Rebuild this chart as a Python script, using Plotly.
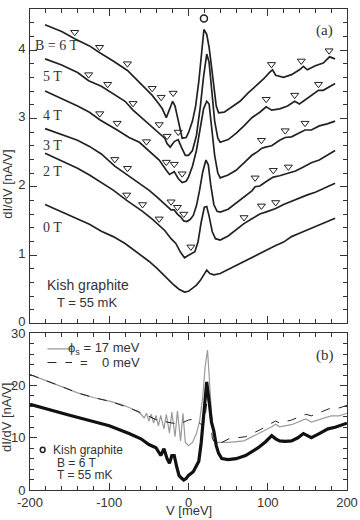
import plotly.graph_objects as go
from plotly.subplots import make_subplots

# ---------- panel (a): dI/dV at several fields (offset curves) ----------
v_6t = [-181, -160, -143, -125, -112, -95, -77, -62, -46, -38, -33, -28, -24, -20, -17, -13, -8, -3, 0,
        5, 9, 13, 16, 19.5, 23, 26, 29, 32, 35, 38, 45, 55, 65, 75, 85, 95, 102, 106, 110, 120, 130,
        140, 145, 150, 160, 170, 178, 185]
g_6t = [4.37, 4.27, 4.16, 4.06, 3.96, 3.84, 3.70, 3.53, 3.34, 3.22, 3.14, 3.01, 3.12, 3.25, 3.18, 2.96,
        2.71, 2.72, 2.79, 2.96, 3.18, 3.54, 3.90, 4.30, 4.23, 4.04, 3.76, 3.42, 3.18, 3.08, 3.09, 3.17,
        3.25, 3.37, 3.47, 3.58, 3.67, 3.71, 3.63, 3.60, 3.64, 3.71, 3.76, 3.71, 3.77, 3.81, 3.90, 3.87]

v_5t = [-181, -160, -140, -126, -110, -102, -90, -80, -70, -60, -50, -37, -30, -27, -23, -18, -13, -9, -4,
        0, 5, 10, 15, 19, 23, 26, 29, 33, 37, 40, 50, 60, 70, 80, 90, 98, 105, 115, 125, 134, 140, 150,
        160, 164, 170, 185]
g_5t = [3.87, 3.78, 3.67, 3.55, 3.47, 3.41, 3.32, 3.25, 3.12, 3.02, 2.92, 2.79, 2.71, 2.63, 2.58, 2.66,
        2.69, 2.58, 2.46, 2.46, 2.53, 2.75, 3.18, 3.61, 3.94, 3.82, 3.40, 2.96, 2.71, 2.65, 2.69, 2.78,
        2.89, 3.01, 3.09, 3.17, 3.12, 3.14, 3.18, 3.25, 3.21, 3.29, 3.37, 3.41, 3.41, 3.51]

v_4t = [-181, -160, -140, -125, -112, -90, -75, -62, -53, -40, -37, -28, -24, -18, -13, -8, -3, 0,
        5, 10, 15, 19, 23, 26, 29, 33, 37, 40, 50, 60, 70, 80, 88, 92, 97, 105, 115, 122, 130, 140,
        147, 155, 165, 175, 185]
g_4t = [3.40, 3.29, 3.18, 3.09, 2.98, 2.83, 2.72, 2.65, 2.56, 2.43, 2.39, 2.24, 2.18, 2.22, 2.12, 2.06,
        2.08, 2.14, 2.30, 2.53, 2.89, 3.14, 3.25, 3.21, 2.89, 2.46, 2.20, 2.13, 2.17, 2.24, 2.35, 2.46,
        2.52, 2.56, 2.58, 2.60, 2.68, 2.72, 2.73, 2.79, 2.83, 2.83, 2.89, 2.92, 2.96]

v_3t = [-181, -160, -140, -125, -110, -93, -77, -62, -50, -40, -30, -22, -18, -14, -10, -6, -2, 2, 6,
        10, 14, 18, 22, 25, 28, 32, 36, 40, 50, 60, 70, 80, 84, 90, 100, 107, 115, 126, 135, 145, 155,
        165, 175, 185]
g_3t = [2.85, 2.76, 2.68, 2.59, 2.48, 2.30, 2.17, 2.05, 1.95, 1.85, 1.74, 1.66, 1.66, 1.60, 1.56, 1.50,
        1.49, 1.52, 1.58, 1.72, 1.95, 2.22, 2.39, 2.32, 2.03, 1.74, 1.64, 1.63, 1.67, 1.76, 1.84, 1.94,
        2.00, 2.01, 2.09, 2.14, 2.16, 2.20, 2.23, 2.29, 2.35, 2.39, 2.46, 2.53]

v_2t = [-181, -160, -140, -125, -110, -95, -78, -58, -45, -37, -30, -22, -16, -10, -5, -1, 4, 8, 12,
        16, 20, 23, 26, 30, 34, 40, 50, 60, 70, 80, 90, 100, 110, 120, 130, 140, 150, 160, 170, 185]
g_2t = [2.49, 2.38, 2.27, 2.17, 2.06, 1.95, 1.80, 1.64, 1.52, 1.44, 1.36, 1.24, 1.17, 1.04, 0.96, 0.99,
        1.02, 1.05, 1.19, 1.48, 1.70, 1.71, 1.57, 1.34, 1.24, 1.22, 1.28, 1.37, 1.46, 1.53, 1.60, 1.64,
        1.68, 1.74, 1.79, 1.84, 1.88, 1.92, 1.97, 2.05]

v_0t = [-181, -160, -140, -125, -110, -95, -80, -62, -50, -40, -30, -20, -12, -5, 0, 5, 10, 15, 20, 23,
        27, 32, 40, 50, 60, 70, 80, 90, 100, 110, 120, 130, 140, 150, 160, 170, 185]
g_0t = [1.74, 1.63, 1.53, 1.45, 1.35, 1.27, 1.17, 1.02, 0.91, 0.81, 0.69, 0.58, 0.50, 0.46, 0.47, 0.52,
        0.56, 0.63, 0.73, 0.78, 0.73, 0.71, 0.73, 0.79, 0.85, 0.91, 0.96, 1.02, 1.08, 1.14, 1.19, 1.27,
        1.32, 1.37, 1.42, 1.47, 1.54]

# Landau level markers (open triangles)
tri_6t_v = [-143.6, -112.2, -77.1, -45.8, -34.5, -19.4, 104.7, 142.3, 177.4]
tri_6t_g = [4.26, 4.04, 3.80, 3.44, 3.31, 3.37, 3.79, 3.84, 3.99]
tri_5t_v = [-126, -102, -70, -37, -27, -13, 98, 134, 164]
tri_5t_g = [3.64, 3.50, 3.22, 2.91, 2.74, 2.80, 3.28, 3.34, 3.50]
tri_4t_v = [-112, -90, -53, -28, -18, -8, 92, 122, 147]
tri_4t_g = [3.07, 2.93, 2.66, 2.36, 2.33, 2.19, 2.68, 2.82, 2.93]
tri_3t_v = [-93, -77, -22, -14, -6, 84, 107, 126]
tri_3t_g = [2.40, 2.27, 1.78, 1.70, 1.60, 2.13, 2.24, 2.29]
tri_2t_v = [-78, -58, -37, 3, 70, 92, 110]
tri_2t_g = [1.88, 1.74, 1.53, 1.12, 1.55, 1.72, 1.77]

peak_v = [19.5]
peak_g = [4.46]

field_labels = ['B = 6 T', '5 T', '4 T', '3 T', '2 T', '0 T']
label_v = [-196, -186, -186, -186, -186, -186]
label_g = [4.07, 3.61, 3.04, 2.60, 2.22, 1.41]

# ---------- panel (b): 6 T data vs model ----------
v_data = [-200, -175, -150, -125, -100, -75, -60, -50, -41, -35, -31, -27, -24, -21, -18, -15, -12, -9,
          -6, -3, 0, 6, 13, 16, 19.5, 23, 26, 29, 32, 35, 38, 42, 50, 60, 72, 80, 88, 97, 105, 110, 115,
          122, 130, 138, 145, 150, 155, 165, 176, 185, 200]
g_data = [16.4, 15.3, 14.3, 13.3, 12.3, 10.8, 9.8, 8.7, 8.1, 6.6, 7.9, 6.0, 5.1, 6.6, 6.6, 4.5, 2.8,
          2.3, 1.9, 2.2, 2.8, 3.5, 5.5, 9.0, 14.5, 20.7, 17.0, 13.0, 11.3, 8.5, 7.0, 6.0, 5.8, 6.0, 6.6,
          7.3, 8.1, 9.2, 10.4, 9.8, 9.4, 9.3, 9.4, 10.0, 10.8, 10.4, 10.0, 10.8, 11.7, 12.0, 12.8]

v_phi17 = [-200, -180, -160, -140, -120, -100, -85, -75, -65, -60, -56, -53, -50, -47, -44, -41, -38,
           -35, -31, -28, -24, -21, -17, -14, -10, -7, -4, 0, 5, 10, 14, 18, 21, 24, 27, 30, 33, 36,
           42, 51, 70, 90, 105, 110, 115, 130, 145, 148, 155, 170, 180, 190, 200]
g_phi17 = [22.1, 21.0, 19.8, 18.6, 17.7, 17.0, 16.4, 15.8, 15.1, 14.5, 13.8, 14.7, 13.2, 14.5, 12.8,
           14.3, 12.3, 14.3, 11.7, 14.5, 10.9, 14.9, 10.2, 15.1, 9.4, 14.7, 9.1, 8.5, 9.1, 10.8, 13.2,
           17.9, 23.6, 26.8, 19.8, 12.3, 9.4, 9.1, 9.1, 9.1, 9.4, 10.9, 12.1, 12.6, 12.1, 12.5, 13.4,
           13.6, 13.0, 13.8, 14.2, 14.2, 14.7]

v_phi0 = [-200, -180, -160, -140, -120, -100, -80, -60, -40, -20, -12, 0, 8, 14, 18, 21, 24, 27, 30,
          33, 36, 42, 51, 72, 90, 105, 110, 115, 130, 145, 148, 155, 170, 180, 190, 200]
g_phi0 = [22.1, 21.0, 19.8, 18.6, 17.7, 17.0, 16.0, 14.8, 13.4, 12.8, 12.6, 13.4, 13.6, 12.8, 12.3,
          14.0, 18.0, 15.0, 10.0, 8.9, 8.9, 9.1, 9.8, 10.2, 11.5, 12.8, 13.2, 12.8, 13.4, 14.3, 14.5,
          14.2, 15.1, 15.7, 15.7, 16.2]

INK = '#222'
SERIF = 'Liberation Serif, Times New Roman, serif'
SANS = 'Liberation Sans, Arial, sans-serif'

fig = make_subplots(rows=2, cols=1)

# V = 0 guide lines
fig.add_vline(x=0, line=dict(color='#a0a0a0', width=1), layer='below', row=1, col=1)
fig.add_vline(x=0, line=dict(color='#a0a0a0', width=1), layer='below', row=2, col=1)

for v, g in [(v_6t, g_6t), (v_5t, g_5t), (v_4t, g_4t), (v_3t, g_3t), (v_2t, g_2t), (v_0t, g_0t)]:
    fig.add_trace(go.Scatter(x=v, y=g, mode='lines', line=dict(color=INK, width=1.7),
                             showlegend=False), row=1, col=1)

for v, g in [(tri_6t_v, tri_6t_g), (tri_5t_v, tri_5t_g), (tri_4t_v, tri_4t_g),
             (tri_3t_v, tri_3t_g), (tri_2t_v, tri_2t_g)]:
    fig.add_trace(go.Scatter(x=v, y=g, mode='markers',
                             marker=dict(symbol='triangle-down-open', size=7, color=INK,
                                         line=dict(width=1, color=INK)),
                             showlegend=False), row=1, col=1)

fig.add_trace(go.Scatter(x=peak_v, y=peak_g, mode='markers',
                         marker=dict(symbol='circle-open', size=7, color=INK, line=dict(width=1.5)),
                         showlegend=False), row=1, col=1)

for text, v, g in zip(field_labels, label_v, label_g):
    fig.add_annotation(x=v, y=g, xref='x', yref='y', text=text, showarrow=False,
                       xanchor='left', yanchor='middle', font=dict(family=SERIF, size=14, color='#333'))

fig.add_annotation(x=172, y=4.29, xref='x', yref='y', text='(a)', showarrow=False,
                   font=dict(family=SERIF, size=15, color='#333'))
fig.add_annotation(x=-181, y=0.56, xref='x', yref='y', text='Kish graphite', showarrow=False,
                   xanchor='left', font=dict(family=SANS, size=14, color='#333'))
fig.add_annotation(x=-169, y=0.30, xref='x', yref='y', text='T = 55 mK', showarrow=False,
                   xanchor='left', font=dict(family=SANS, size=13, color='#333'))

# panel (b) curves
fig.add_trace(go.Scatter(x=v_phi17, y=g_phi17, mode='lines', line=dict(color='#9a9a9a', width=1.2),
                         showlegend=False), row=2, col=1)
fig.add_trace(go.Scatter(x=v_phi0, y=g_phi0, mode='lines',
                         line=dict(color=INK, width=1, dash='dash'), showlegend=False), row=2, col=1)
fig.add_trace(go.Scatter(x=v_data, y=g_data, mode='lines', line=dict(color='#111', width=3.2),
                         showlegend=False), row=2, col=1)

# legend of panel (b)
fig.add_shape(type='line', xref='x2', yref='y2', x0=-178, x1=-147, y0=27.0, y1=27.0,
              line=dict(color='#9a9a9a', width=1.2))
fig.add_shape(type='line', xref='x2', yref='y2', x0=-178, x1=-147, y0=24.4, y1=24.4,
              line=dict(color=INK, width=1, dash='dash'))
fig.add_annotation(x=-59, y=27.0, xref='x2', yref='y2', text='\u03d5<sub>s</sub> = 17 meV',
                   showarrow=False, xanchor='right', font=dict(family=SANS, size=13, color='#333'))
fig.add_annotation(x=-59, y=24.4, xref='x2', yref='y2', text='=\u00a0\u00a0\u00a0\u00a00 meV',
                   showarrow=False, xanchor='right', font=dict(family=SANS, size=13, color='#333'))
fig.add_annotation(x=172, y=25.8, xref='x2', yref='y2', text='(b)', showarrow=False,
                   font=dict(family=SERIF, size=15, color='#333'))
fig.add_shape(type='circle', xref='x2', yref='y2', x0=-187, x1=-181, y0=7.2, y1=8.2,
              line=dict(color=INK, width=1.5))
fig.add_annotation(x=-174, y=7.7, xref='x2', yref='y2', text='Kish graphite', showarrow=False,
                   xanchor='left', font=dict(family=SANS, size=12, color='#333'))
fig.add_annotation(x=-169, y=5.25, xref='x2', yref='y2', text='B = 6 T', showarrow=False,
                   xanchor='left', font=dict(family=SANS, size=12, color='#333'))
fig.add_annotation(x=-169, y=2.8, xref='x2', yref='y2', text='T = 55 mK', showarrow=False,
                   xanchor='left', font=dict(family=SANS, size=12, color='#333'))

# axis titles
fig.add_annotation(x=-0.072, y=0.635, xref='paper', yref='paper', text='dI/dV [nA/V]',
                   textangle=-90, xanchor='center', yanchor='middle', showarrow=False,
                   font=dict(family=SANS, size=13, color='#333'))
fig.add_annotation(x=-0.072, y=0.15, xref='paper', yref='paper', text='dI/dV [nA/V]',
                   textangle=-90, xanchor='center', yanchor='middle', showarrow=False,
                   font=dict(family=SANS, size=13, color='#333'))
fig.add_annotation(x=0.5, y=-0.0615, xref='paper', yref='paper', text='V [meV]',
                   showarrow=False, xanchor='center', yanchor='bottom',
                   font=dict(family=SANS, size=13, color='#333'))

axis_common = dict(showline=True, linecolor='#333', linewidth=1, mirror='allticks', ticks='inside',
                   tickcolor='#333', showgrid=False, zeroline=False,
                   tickfont=dict(family=SANS, size=13, color='#333'))

x_ticks = [-200, -100, 0, 100, 200]
x_ticktext = ['-200', '-100', '0', '100', '200']

fig.update_xaxes(range=[-200, 200], tickmode='array', tickvals=x_ticks, ticktext=x_ticktext,
                 ticklen=7, minor=dict(tickmode='linear', tick0=0, dtick=20, ticks='inside',
                                       ticklen=4, tickcolor='#333'),
                 **axis_common)
fig.update_xaxes(showticklabels=False, row=1, col=1)
fig.update_xaxes(ticklabelstandoff=0, row=2, col=1)

fig.update_yaxes(range=[0, 4.6], tickmode='linear', tick0=0, dtick=1, ticklen=7,
                 minor=dict(tickmode='linear', tick0=0, dtick=0.2, ticks='inside', ticklen=4,
                            tickcolor='#333'),
                 ticklabelstandoff=1, ticklabelshift=-2, row=1, col=1, **axis_common)
fig.update_yaxes(range=[0, 30], tickmode='linear', tick0=0, dtick=10, ticklen=7,
                 minor=dict(tickmode='linear', tick0=0, dtick=2, ticks='inside', ticklen=4,
                            tickcolor='#333'),
                 ticklabelstandoff=1, row=2, col=1, **axis_common)

fig.update_layout(
    width=360, height=520,
    margin=dict(l=30, r=11, t=2, b=30),
    plot_bgcolor='white', paper_bgcolor='white',
    showlegend=False,
    yaxis=dict(domain=[0.3463, 1.0]),
    yaxis2=dict(domain=[0.0, 0.3258]),
    font=dict(family=SANS, size=13, color='#333'),
)

# the page is exactly the figure size, so drop the browser's default body margin
fig.write_html("out.html", config={'displayModeBar': False},
               post_script="document.body.style.margin='0';")
